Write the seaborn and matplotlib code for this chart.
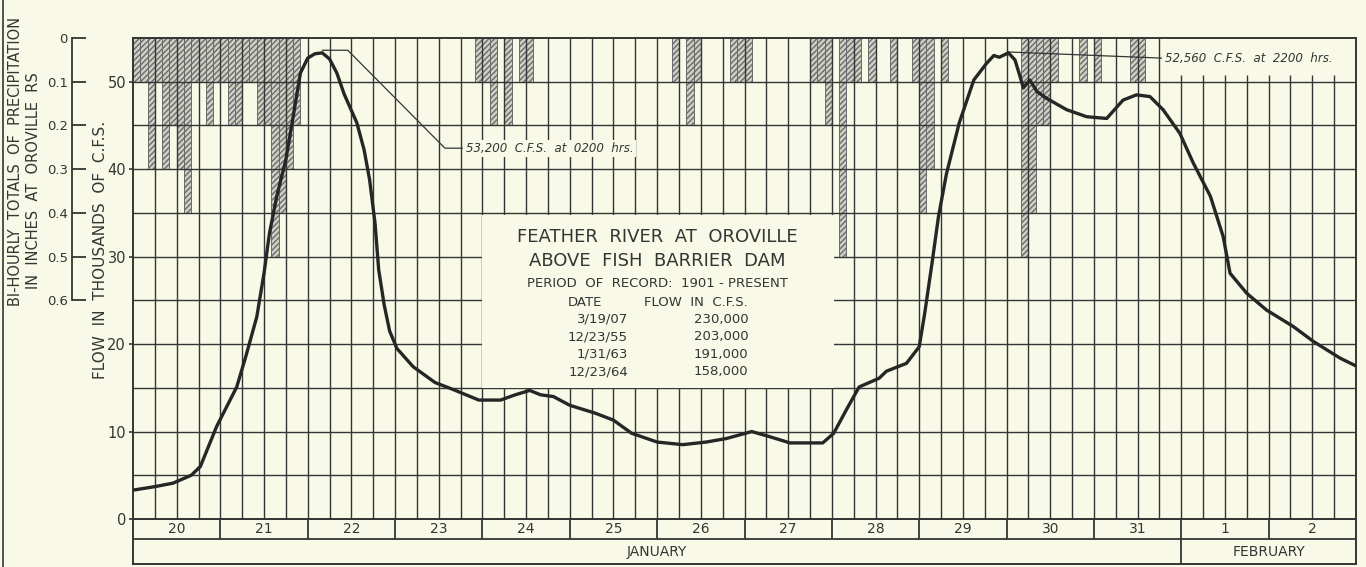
import matplotlib
matplotlib.use('Agg')
import matplotlib.pyplot as plt
from matplotlib.patches import Rectangle
from matplotlib.lines import Line2D
import pandas as pd
import seaborn as sns

sns.set_theme(style='white')
plt.rcParams['font.family'] = ['DejaVu Sans']

BG = '#f8f9e6'
INK = '#353535'

# flow, hours after 0000 Jan 20, thousands of c.f.s.
hours = [0, 6, 11, 16, 18.5, 23, 28.5, 31, 34, 36, 37.5, 39.5, 42, 44, 46, 48,
         50, 52, 54, 56, 58, 61.5, 63.5, 65, 66.5, 67.5, 69, 70.5, 72.5, 77,
         83, 88, 95, 101, 105, 109, 112, 115.5, 120, 127, 132, 137, 144, 151,
         157.5, 163, 170, 175, 180.5, 189.5, 192.5, 196, 199.5, 205, 207,
         212.5, 216, 217.5, 219.5, 221.3, 223.5, 227, 231, 234.5, 236.5, 238,
         240.5, 242.3, 243.7, 244.6, 246.4, 248.3, 251, 256.5, 262, 267.5,
         272, 275.7, 279.4, 283, 287.6, 291.3, 296, 299.5, 301.4, 306, 311.4,
         318.8, 324.3, 331.6, 336]
flow = [3.3, 3.7, 4.1, 5.0, 6.0, 10.6, 15.1, 18.6, 23.1, 28.1, 32.7, 36.9,
        41.1, 46.0, 51.0, 52.7, 53.2, 53.3, 52.6, 51.0, 48.6, 45.3, 42.2,
        38.8, 33.8, 28.5, 24.5, 21.5, 19.5, 17.4, 15.6, 14.8, 13.6, 13.6,
        14.2, 14.7, 14.2, 14.0, 13.0, 12.1, 11.3, 9.8, 8.8, 8.5, 8.8, 9.2,
        10.0, 9.4, 8.7, 8.7, 9.8, 12.5, 15.1, 16.1, 16.9, 17.8, 19.7, 23.5,
        29.2, 34.6, 39.5, 45.3, 50.2, 52.1, 53.0, 52.8, 53.3, 52.5, 50.6,
        49.3, 50.2, 48.9, 48.1, 46.8, 46.0, 45.8, 47.9, 48.5, 48.3, 46.8,
        44.1, 40.7, 36.9, 32.3, 28.1, 25.8, 23.9, 22.0, 20.3, 18.4, 17.5]

# bi-hourly precipitation, start hour of each 2-hour total, inches
rain_start_hr = [0, 2, 4, 6, 8, 10, 12, 14, 16, 18, 20, 22, 24, 26, 28, 30,
                 32, 34, 36, 38, 40, 42, 44, 94, 96, 98, 102, 106, 108, 148,
                 152, 154, 164, 166, 168, 186, 188, 190, 194, 196, 198, 202,
                 208, 214, 216, 218, 222, 244, 246, 248, 250, 252, 260, 264,
                 274, 276]
rain_in = [0.1, 0.1, 0.3, 0.1, 0.3, 0.2, 0.3, 0.4, 0.1, 0.1, 0.2, 0.1, 0.1,
           0.2, 0.2, 0.1, 0.1, 0.2, 0.2, 0.5, 0.4, 0.3, 0.2, 0.1, 0.1, 0.2,
           0.2, 0.1, 0.1, 0.1, 0.2, 0.1, 0.1, 0.1, 0.1, 0.1, 0.1, 0.2, 0.5,
           0.1, 0.1, 0.1, 0.1, 0.1, 0.4, 0.3, 0.1, 0.5, 0.4, 0.2, 0.2, 0.1,
           0.1, 0.1, 0.1, 0.1]

day_labels = ['20', '21', '22', '23', '24', '25', '26', '27', '28', '29',
              '30', '31', '1', '2']
month_labels = ['JANUARY', 'FEBRUARY']
month_ndays = [12, 2]

record_dates = ['3/19/07', '12/23/55', '1/31/63', '12/23/64']
record_flows = ['230,000', '203,000', '191,000', '158,000']

df = pd.DataFrame({'hour': hours, 'flow': flow})
ndays = len(day_labels)
xmax = 24 * ndays
feb_start = 24 * month_ndays[0]

fig = plt.figure(figsize=(13.66, 5.67), dpi=100, facecolor=BG)
rect = [133 / 1366, 1 - 519 / 567, 1223 / 1366, 481 / 567]
ax2 = fig.add_axes(rect)
ax = fig.add_axes(rect, sharex=ax2)
ax.set_zorder(2)
ax2.set_zorder(1)
ax.patch.set_visible(False)
ax2.set_facecolor(BG)

# precipitation bars hang from the top
ax2.bar(rain_start_hr, rain_in, width=2, align='edge', facecolor='#cfd0c5',
        edgecolor='#6a6a6a', hatch='//////', linewidth=0.7, zorder=1)
ax2.set_ylim(1.1, 0)
ax2.set_xlim(0, xmax)
for s in ['top', 'right', 'bottom']:
    ax2.spines[s].set_visible(False)
ax2.spines['left'].set_position(('axes', -61 / 1223))
ax2.spines['left'].set_bounds(0, 0.6)
ax2.spines['left'].set_color(INK)
ax2.spines['left'].set_linewidth(1.3)
ax2.set_yticks([0, 0.1, 0.2, 0.3, 0.4, 0.5, 0.6])
ax2.set_yticklabels(['0', '0.1', '0.2', '0.3', '0.4', '0.5', '0.6'])
ax2.tick_params(axis='y', direction='in', length=10, width=1.3, color=INK,
                pad=3, labelsize=9.5, labelcolor=INK, left=True)
ax2.tick_params(axis='x', bottom=False, labelbottom=False)

# grid
grid_full = [h for h in range(6, xmax, 6) if h < feb_start]
grid_feb = [h for h in range(6, xmax, 6) if h >= feb_start]
ax.vlines(grid_full, 0, 55, color=INK, lw=1.0, zorder=1)
ax.vlines(grid_feb, 0, 50.8, color=INK, lw=1.0, zorder=1)
ax.hlines(range(5, 55, 5), 0, xmax, color=INK, lw=1.0, zorder=1)

sns.lineplot(data=df, x='hour', y='flow', ax=ax, color='#262626', lw=2.4,
             zorder=5)
ax.set_xlim(0, xmax)
ax.set_ylim(0, 55)
ax.set_xlabel('')
ax.set_ylabel('')
ax.set_yticks(range(0, 51, 10))
ax.tick_params(axis='y', direction='out', length=3, width=1.2, color=INK,
               pad=2, labelsize=10.5, labelcolor=INK, left=True)
ax.tick_params(axis='x', bottom=False, labelbottom=False)
for s in ax.spines.values():
    s.set_color(INK)
    s.set_linewidth(1.4)

# record box
ax.add_patch(Rectangle((96, 15.0), 96.5, 19.8, facecolor=BG, edgecolor='none',
                       zorder=3))
kw = dict(color=INK, zorder=4)
ax.text(144, 32.3, 'FEATHER  RIVER  AT  OROVILLE', ha='center', va='center',
        fontsize=13, **kw)
ax.text(144, 29.5, 'ABOVE  FISH  BARRIER  DAM', ha='center', va='center',
        fontsize=13, **kw)
ax.text(144, 26.9, 'PERIOD  OF  RECORD:  1901 - PRESENT', ha='center',
        va='center', fontsize=9.5, **kw)
ax.text(119.5, 24.75, 'DATE', ha='left', va='center', fontsize=9.5, **kw)
ax.text(169, 24.75, 'FLOW  IN  C.F.S.', ha='right', va='center',
        fontsize=9.5, **kw)
for i, (d, q) in enumerate(zip(record_dates, record_flows)):
    yy = 22.85 - 2.0 * i
    ax.text(136, yy, d, ha='right', va='center', fontsize=9.5, **kw)
    ax.text(169, yy, q, ha='right', va='center', fontsize=9.5, **kw)

# peak annotations
ax.plot([52, 59, 85.7, 90.5], [53.6, 53.6, 42.4, 42.4], color=INK, lw=0.9,
        zorder=4)
ax.text(91.5, 42.4, '53,200  C.F.S.  at  0200  hrs.', ha='left',
        va='center', fontsize=8.5, style='italic', color=INK, zorder=4,
        bbox=dict(facecolor=BG, edgecolor='none', pad=1.5))
ax.plot([240.5, 282.6], [53.4, 52.7], color=INK, lw=0.9, zorder=4)
ax.text(283.5, 52.7, '52,560  C.F.S.  at  2200  hrs.', ha='left',
        va='center', fontsize=8.5, style='italic', color=INK, zorder=4,
        bbox=dict(facecolor=BG, edgecolor='none', pad=1.5))

# date rows below the chart
axd = fig.add_axes([133 / 1366, 1 - 564 / 567, 1223 / 1366, 45 / 567])
axd.set_facecolor(BG)
axd.set_xlim(0, xmax)
axd.set_ylim(0, 1)
axd.set_xticks([])
axd.set_yticks([])
for s in axd.spines.values():
    s.set_color(INK)
    s.set_linewidth(1.4)
split = 0.55
axd.hlines(split, 0, xmax, color=INK, lw=1.3)
axd.vlines([24 * i for i in range(1, ndays)], split, 1, color=INK, lw=1.3)
for i, lab in enumerate(day_labels):
    axd.text(24 * i + 12, (1 + split) / 2, lab, ha='center', va='center',
             fontsize=10, color=INK)
start = 0
for lab, n in zip(month_labels, month_ndays):
    end = start + 24 * n
    if end < xmax:
        axd.vlines(end, 0, split, color=INK, lw=1.3)
    axd.text((start + end) / 2, split / 2, lab, ha='center', va='center',
             fontsize=10, color=INK)
    start = end

# axis titles
fig.text(101 / 1366, 1 - 250 / 567, 'FLOW  IN  THOUSANDS  OF  C.F.S.',
         rotation=90, ha='center', va='center', fontsize=11, color=INK)
fig.text(16 / 1366, 1 - 161 / 567, 'BI-HOURLY  TOTALS  OF  PRECIPITATION',
         rotation=90, ha='center', va='center', fontsize=10.5, color=INK)
fig.text(34 / 1366, 1 - 181 / 567, 'IN  INCHES  AT  OROVILLE  RS',
         rotation=90, ha='center', va='center', fontsize=10.5, color=INK)
fig.add_artist(Line2D([0.002, 0.002], [0, 1], color=INK, lw=1.2))

fig.savefig('out.png', dpi=100, facecolor=BG)
